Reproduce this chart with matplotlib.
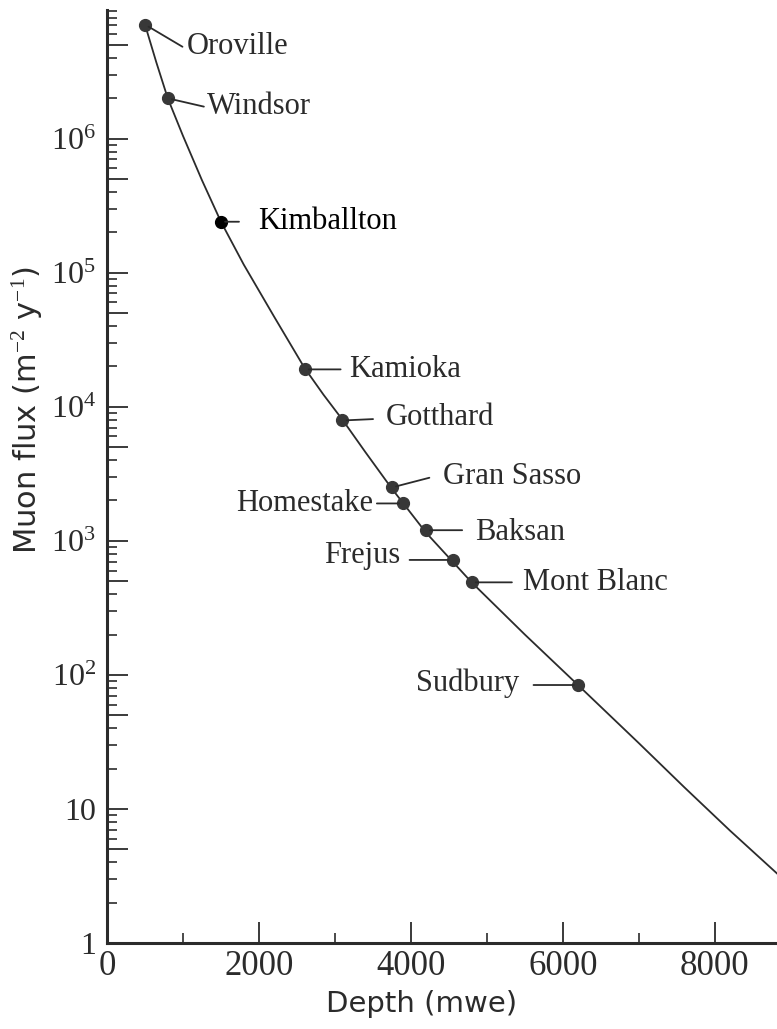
import numpy as np
import matplotlib.pyplot as plt
from matplotlib.ticker import FixedLocator, FixedFormatter, NullFormatter

# underground laboratories: depth (m water equivalent) and muon flux (m^-2 y^-1)
SITES = ["Oroville", "Windsor", "Kimballton", "Kamioka", "Gotthard", "Gran Sasso",
         "Homestake", "Baksan", "Frejus", "Mont Blanc", "Sudbury"]
SITE_DEPTH = [500, 800, 1500, 2600, 3100, 3750, 3900, 4200, 4550, 4800, 6200]
SITE_FLUX = [7.1e6, 2.0e6, 2.4e5, 1.9e4, 7.9e3, 2.5e3, 1.9e3, 1.2e3, 720, 490, 84]

# depth-intensity curve
CURVE_DEPTH = [500, 650, 800, 1000, 1250, 1500, 1800, 2200, 2600, 2850, 3100, 3400,
               3750, 4200, 4800, 5500, 6200, 7000, 7600, 8200, 8820]
CURVE_FLUX = [7.1e6, 3.7e6, 2.0e6, 1.05e6, 4.9e5, 2.4e5, 1.15e5, 4.7e4, 1.95e4, 1.23e4,
              8.0e3, 4.6e3, 2.45e3, 1.15e3, 490, 200, 84, 31, 14.5, 6.9, 3.3]

X_TICKS = [0, 2000, 4000, 6000, 8000]
X_TICK_LABELS = ["0", "2000", "4000", "6000", "8000"]
X_MINOR = [1000, 3000, 5000, 7000]
Y_TICKS = [1, 10, 1e2, 1e3, 1e4, 1e5, 1e6]
Y_TICK_LABELS = ["1", "10", r"$10^2$", r"$10^3$", r"$10^4$", r"$10^5$", r"$10^6$"]
Y_HALF = [5, 50, 5e2, 5e3, 5e4, 5e5, 5e6]

# label placement (offset points): leader end, text anchor, alignment
LEADER = [(27, -16), (26, -6), (13, 0), (26, 0), (22, 1), (27, 7),
          (-19, 0), (26, 0), (-31, 0), (29, 0), (-32, 0)]
TEXT_AT = [(30, -16), (28, -6), (27, 0), (32, 0), (31, 2), (37, 8),
           (-22, 0), (35, -2), (-38, 3), (37, 0), (-42, 1)]
HA = ["left", "left", "left", "left", "left", "left",
      "right", "left", "right", "left", "right"]

plt.rcParams["mathtext.fontset"] = "custom"
plt.rcParams["mathtext.rm"] = "Liberation Serif"
plt.rcParams["mathtext.it"] = "Liberation Serif:italic"

ink = "#2b2b2b"

fig = plt.figure(figsize=(7.77, 10.29), dpi=100)
ax = fig.add_axes([0.1377, 0.0836, 0.8623, 0.9066])

ax.plot(CURVE_DEPTH, CURVE_FLUX, color=ink, lw=1.3, zorder=2)

for i, name in enumerate(SITES):
    d, f = SITE_DEPTH[i], SITE_FLUX[i]
    col = "black" if name == "Kimballton" else "#383838"
    ax.plot(d, f, "o", ms=8.5, color=col, mec=col, zorder=3)
    ax.annotate("", xy=(d, f), xytext=LEADER[i], textcoords="offset points",
                arrowprops=dict(arrowstyle="-", color=ink, lw=1.3,
                                shrinkA=0, shrinkB=3))
    ax.annotate(name, xy=(d, f), xytext=TEXT_AT[i], textcoords="offset points",
                ha=HA[i], va="center", fontsize=22,
                color="black" if name == "Kimballton" else ink,
                family="Liberation Serif")

ax.set_yscale("log")
ax.set_xlim(0, 8820)
ax.set_ylim(1, 9.1e6)

for side in ("top", "right"):
    ax.spines[side].set_visible(False)
for side in ("left", "bottom"):
    ax.spines[side].set_linewidth(2.2)
    ax.spines[side].set_color(ink)

ax.xaxis.set_major_locator(FixedLocator(X_TICKS))
ax.xaxis.set_major_formatter(FixedFormatter(X_TICK_LABELS))
ax.xaxis.set_minor_locator(FixedLocator(X_MINOR))

# long ticks at decades and at the 5x positions, short ticks elsewhere
major_y = sorted(Y_TICKS + Y_HALF)
major_lab = [Y_TICK_LABELS[Y_TICKS.index(v)] if v in Y_TICKS else "" for v in major_y]
ax.yaxis.set_major_locator(FixedLocator(major_y))
ax.yaxis.set_major_formatter(FixedFormatter(major_lab))
minor_y = [m * 10.0 ** k for k in range(7) for m in (2, 3, 4, 6, 7, 8, 9)]
ax.yaxis.set_minor_locator(FixedLocator(minor_y))
ax.yaxis.set_minor_formatter(NullFormatter())

ax.tick_params(which="major", direction="in", length=15, width=1.3, color=ink)
ax.tick_params(which="minor", direction="in", length=7.5, width=1.2, color=ink)
ax.tick_params(axis="y", which="both", pad=8, labelsize=23, labelcolor=ink)
ax.tick_params(axis="x", which="both", pad=5, labelsize=25, labelcolor=ink)
for lab in ax.get_xticklabels() + ax.get_yticklabels():
    lab.set_family("Liberation Serif")

ax.set_xlabel("Depth (mwe)", fontsize=21, color=ink, family="DejaVu Sans")
ax.set_ylabel("Muon flux (m$^{-2}$ y$^{-1}$)", fontsize=22, color=ink,
              family="DejaVu Sans")
ax.xaxis.set_label_coords(0.47, -0.05)
ax.yaxis.set_label_coords(-0.092, 0.571)

fig.savefig("out.png", dpi=100)
